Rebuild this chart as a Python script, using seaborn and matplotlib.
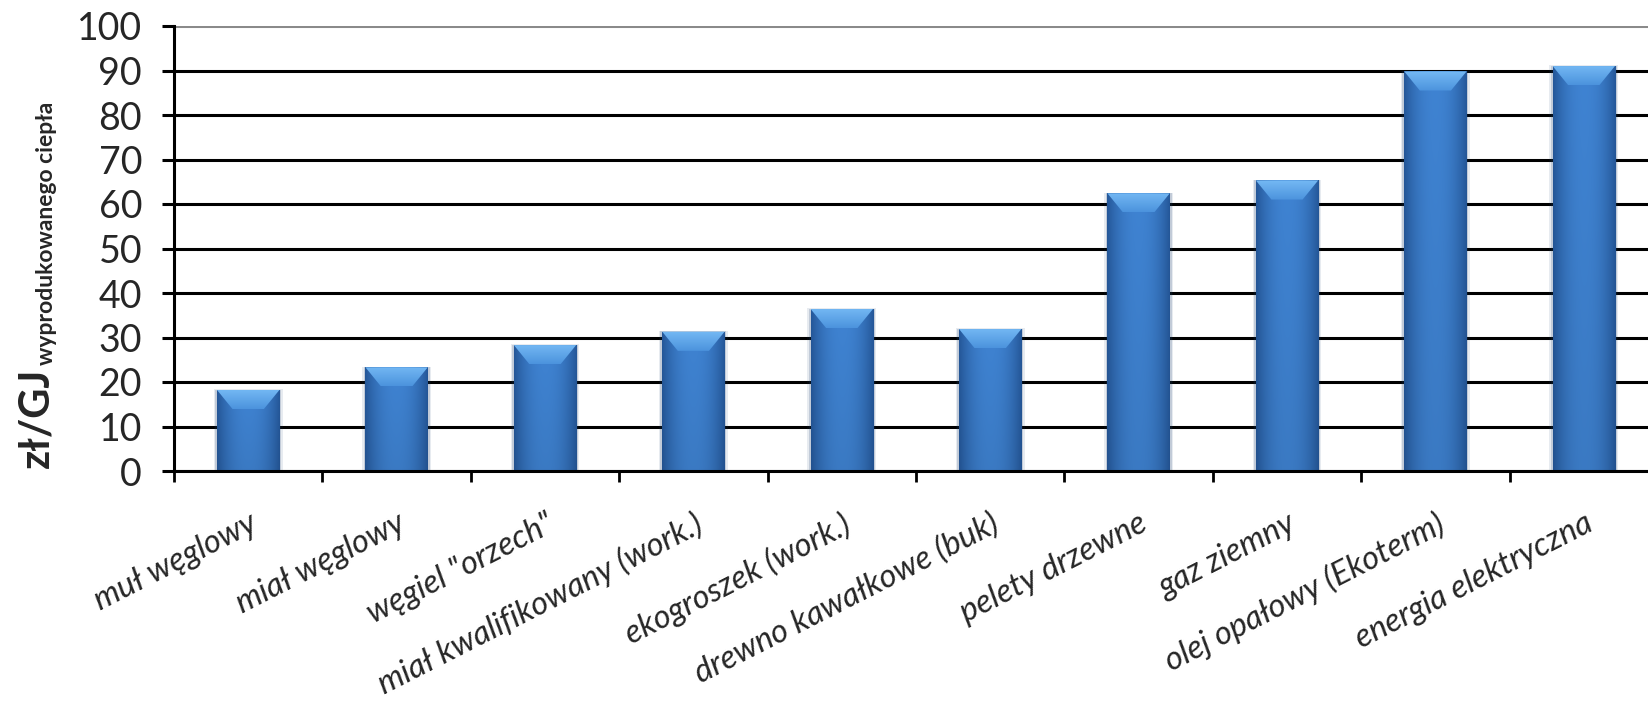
import numpy as np
import matplotlib
matplotlib.use("Agg")
import matplotlib.pyplot as plt
from matplotlib.patches import Polygon, Rectangle
from matplotlib.colors import to_rgb
import seaborn as sns

# Cost of heat per fuel type
categories = [
    "muł węglowy",
    "miał węglowy",
    'węgiel "orzech"',
    "miał kwalifikowany (work.)",
    "ekogroszek (work.)",
    "drewno kawałkowe (buk)",
    "pelety drzewne",
    "gaz ziemny",
    "olej opałowy (Ekoterm)",
    "energia elektryczna",
]
costs = [18.2, 23.3, 28.3, 31.3, 36.4, 31.9, 62.4, 65.3, 89.8, 91.0]
y_ticks = list(range(0, 101, 10))
y_label_main = "zł/GJ"
y_label_sub = "wyprodukowanego ciepła"

sns.set_theme(style="white")
plt.rcParams["font.family"] = ["Lato", "DejaVu Sans"]

W, H = 1648, 710
fig = plt.figure(figsize=(W / 100, H / 100), dpi=100)
ax = fig.add_axes([174 / W, 1 - 471 / H, 1484 / W, (471 - 26) / H])

sns.barplot(x=categories, y=costs, color="#3A7BC8", saturation=1,
            width=0.42, linewidth=0, ax=ax)

ax.set_xlim(-0.5, 9.5)
ax.set_ylim(0, 100)
ax.set_yticks(y_ticks)
ax.set_yticklabels([str(t) for t in y_ticks], fontsize=27)
ax.set_ylabel("")
ax.set_xlabel("")

# gridlines, top one grey
ax.set_axisbelow(True)
ax.yaxis.grid(True, color="black", linewidth=2.2)
ax.xaxis.grid(False)
for gl, t in zip(ax.get_ygridlines(), y_ticks):
    if t == 100:
        gl.set_color("#8a8a8a")

for side in ("top", "right"):
    ax.spines[side].set_visible(False)
for side in ("left", "bottom"):
    ax.spines[side].set_color("black")
    ax.spines[side].set_linewidth(2.2)

ax.tick_params(axis="y", which="major", direction="out", length=9,
               width=2.2, color="black", pad=14, left=True)
ax.set_xticks(np.arange(-0.5, len(categories), 1), minor=True)
ax.tick_params(axis="x", which="minor", direction="out", length=8,
               width=2.0, color="black", bottom=True)
ax.tick_params(axis="x", which="major", length=0, pad=27)
ax.set_xticklabels(categories, rotation=27, ha="right",
                   rotation_mode="anchor", fontstyle="italic", fontsize=23.5)

# shaded, bevelled look on each bar
edge = np.array(to_rgb("#25589A"))
mid = np.array(to_rgb("#3F83D2"))
xs = np.linspace(0, 1, 64)
prof = (np.abs(xs - 0.5) * 2) ** 2.2
body = mid[None, :] * (1 - prof[:, None]) + edge[None, :] * prof[:, None]
body_img = np.tile(body[None, :, :], (32, 1, 1))
vs = np.linspace(0, 1, 32)[:, None, None]
body_img = body_img * (0.93 + 0.07 * vs)  # origin lower -> row 0 at bottom

top_c = np.array(to_rgb("#74B9F4"))
bot_c = np.array(to_rgb("#4C93DD"))
bev_img = (bot_c[None, :] * (1 - vs[:, :, 0]) + top_c[None, :] * vs[:, :, 0])[:, None, :]
bev_img = np.tile(bev_img, (1, 16, 1))

bevel = 4.3
for p in list(ax.patches):
    x0 = p.get_x()
    w = p.get_width()
    h = p.get_height()
    # soft halo around the bar
    for grow, alpha in ((0.022, 0.10), (0.012, 0.18)):
        ax.add_patch(Rectangle((x0 - grow, 0), w + 2 * grow, h + grow * 8,
                               facecolor="#1d3f6e", edgecolor="none",
                               alpha=alpha, zorder=1.9))
    im = ax.imshow(body_img, extent=[x0, x0 + w, 0, h], origin="lower",
                   aspect="auto", interpolation="bilinear", zorder=2.2)
    im.set_clip_path(p)
    tri = Polygon([(x0, h), (x0 + w, h), (x0 + 0.75 * w, h - bevel),
                   (x0 + 0.25 * w, h - bevel)], closed=True,
                  facecolor="none", edgecolor="none", zorder=2.3)
    ax.add_patch(tri)
    bim = ax.imshow(bev_img, extent=[x0, x0 + w, h - bevel, h], origin="lower",
                    aspect="auto", interpolation="bilinear", zorder=2.3)
    bim.set_clip_path(tri)

ax.set_xlim(-0.5, 9.5)
ax.set_ylim(0, 100)

# y-axis title with subscript
t_main = fig.text(36 / W, 1 - 468 / H, y_label_main, rotation=90,
                  ha="center", va="bottom", fontsize=30, fontweight="bold")
fig.canvas.draw()
bb = t_main.get_window_extent(fig.canvas.get_renderer())
fig.text(47 / W, (bb.y1 + 3) / H, y_label_sub, rotation=90,
         ha="center", va="bottom", fontsize=16.5, fontweight="bold")

fig.savefig("out.png", dpi=100)
